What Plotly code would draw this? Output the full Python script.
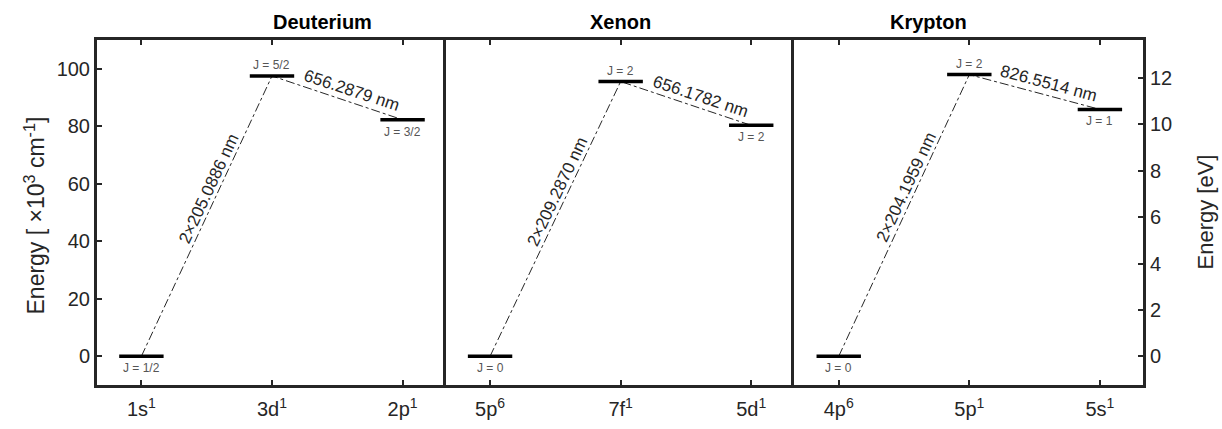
import plotly.graph_objects as go

# ---- data ----
panels = ["Deuterium", "Xenon", "Krypton"]
configs = [["1s<sup>1</sup>", "3d<sup>1</sup>", "2p<sup>1</sup>"],
           ["5p<sup>6</sup>", "7f<sup>1</sup>", "5d<sup>1</sup>"],
           ["4p<sup>6</sup>", "5p<sup>1</sup>", "5s<sup>1</sup>"]]
energies = [[0.0, 97.49, 82.26],      # x10^3 cm^-1
            [0.0, 95.55, 80.31],
            [0.0, 97.96, 85.86]]
j_labels = [["J = 1/2", "J = 5/2", "J = 3/2"],
            ["J = 0", "J = 2", "J = 2"],
            ["J = 0", "J = 2", "J = 1"]]
j_above = [False, True, False]
uv_labels = ["2×205.0886 nm", "2×209.2870 nm", "2×204.1959 nm"]
vis_labels = ["656.2879 nm", "656.1782 nm", "826.5514 nm"]
uv_angles = [-65, -64.6, -65]
vis_angles = [18.2, 18.4, 15]
cm_per_eV = 8.0655  # x10^3 cm^-1 per eV
yticks_cm = [0, 20, 40, 60, 80, 100]
yticks_eV = [0, 2, 4, 6, 8, 10, 12]

AX = "#262626"
FONT = "Liberation Sans, Arial, sans-serif"
yr = [-10, 110]
xr = [0.66, 3.33]
half = 0.17

fig = go.Figure()
ann = []
for p in range(3):
    xa = "x" if p == 0 else f"x{p+1}"
    ya = "y" if p == 0 else f"y{p+1}"
    E = energies[p]
    pos = [1, 2, 3]
    # transitions
    fig.add_trace(go.Scatter(x=[pos[0], pos[1], pos[2]], y=[E[0], E[1], E[2]],
                             mode="lines", line=dict(color=AX, width=1, dash="dashdot"),
                             xaxis=xa, yaxis=ya, showlegend=False, hoverinfo="skip"))
    # levels
    for i in range(3):
        fig.add_trace(go.Scatter(x=[pos[i]-half, pos[i]+half], y=[E[i], E[i]],
                                 mode="lines", line=dict(color="black", width=3.5),
                                 xaxis=xa, yaxis=ya, showlegend=False, hoverinfo="skip"))
        ann.append(dict(x=pos[i], y=E[i], xref=xa, yref=ya, text=j_labels[p][i],
                        showarrow=False, font=dict(size=12, color="#555555", family=FONT),
                        yshift=11 if j_above[i] else -12))
    # transition labels
    t = 0.6
    ann.append(dict(x=pos[0] + t*(pos[1]-pos[0]), y=E[0] + t*(E[1]-E[0]),
                    xref=xa, yref=ya, text=uv_labels[p], showarrow=False,
                    textangle=uv_angles[p], xshift=-11,
                    font=dict(size=17, color=AX, family=FONT)))
    t = 0.61
    ann.append(dict(x=pos[1] + t*(pos[2]-pos[1]), y=E[1] + t*(E[2]-E[1]),
                    xref=xa, yref=ya, text=vis_labels[p], showarrow=False,
                    textangle=vis_angles[p], yshift=12,
                    font=dict(size=17, color=AX, family=FONT)))
    # panel title
    ann.append(dict(x=(p + 0.5)/3, y=1, xref="paper", yref="paper", text=f"<b>{panels[p]}</b>",
                    showarrow=False, yanchor="middle", yshift=18,
                    font=dict(size=20, color="black", family=FONT)))

# axis titles
ann.append(dict(x=0, y=0.5, xref="paper", yref="paper", xanchor="center", yanchor="middle",
                xshift=-63, yshift=-3, textangle=-90, showarrow=False,
                text="Energy [ ×10<sup>3</sup> cm<sup>-1</sup>]",
                font=dict(size=23, color=AX, family=FONT)))
ann.append(dict(x=1, y=0.5, xref="paper", yref="paper", xanchor="center", yanchor="middle",
                xshift=62, textangle=-90, showarrow=False,
                text="Energy [eV]", font=dict(size=22, color=AX, family=FONT)))

# invisible trace for right axis
fig.add_trace(go.Scatter(x=[2], y=[0], xaxis="x3", yaxis="y4", mode="markers",
                         marker=dict(opacity=0), showlegend=False, hoverinfo="skip"))

layout = dict(
    width=1222, height=429,
    margin=dict(l=97, r=79, t=40, b=44, autoexpand=False),
    paper_bgcolor="white", plot_bgcolor="white",
    font=dict(family=FONT, color=AX, size=20),
    annotations=ann,
)
for p in range(3):
    key = "xaxis" if p == 0 else f"xaxis{p+1}"
    anchor = "y" if p == 0 else f"y{p+1}"
    layout[key] = dict(domain=[p/3, (p+1)/3], range=xr, anchor=anchor,
                       tickvals=[1, 2, 3], ticktext=configs[p],
                       ticks="inside", ticklen=5, tickwidth=1.5, tickcolor=AX,
                       showline=True, linecolor=AX, linewidth=3, mirror="ticks",
                       showgrid=False, zeroline=False, fixedrange=True, automargin=False,
                       ticklabelstandoff=4,
                       tickfont=dict(size=20, color=AX))
    ykey = "yaxis" if p == 0 else f"yaxis{p+1}"
    xanchor = "x" if p == 0 else f"x{p+1}"
    yd = dict(range=yr, anchor=xanchor, showline=True, linecolor=AX, linewidth=3,
              mirror=False, showgrid=False, zeroline=False, fixedrange=True, automargin=False)
    if p == 0:
        yd.update(tickvals=yticks_cm, ticks="inside", ticklen=5, tickwidth=1.5,
                  tickcolor=AX, tickfont=dict(size=20, color=AX))
    else:
        yd.update(showticklabels=False, ticks="")
    layout[ykey] = yd
layout["yaxis4"] = dict(overlaying="y3", side="right", anchor="x3",
                        range=[yr[0]/cm_per_eV, yr[1]/cm_per_eV],
                        tickvals=yticks_eV, ticks="inside", ticklen=5, tickwidth=1.5,
                        tickcolor=AX, tickfont=dict(size=20, color=AX),
                        showline=True, linecolor=AX, linewidth=3, automargin=False,
                        showgrid=False, zeroline=False, fixedrange=True)
fig.update_layout(**layout)
fig.write_html("out.html", config={"displayModeBar": False},
               post_script="document.body.style.margin='0px';document.body.style.padding='0px';document.body.style.overflow='hidden';")
